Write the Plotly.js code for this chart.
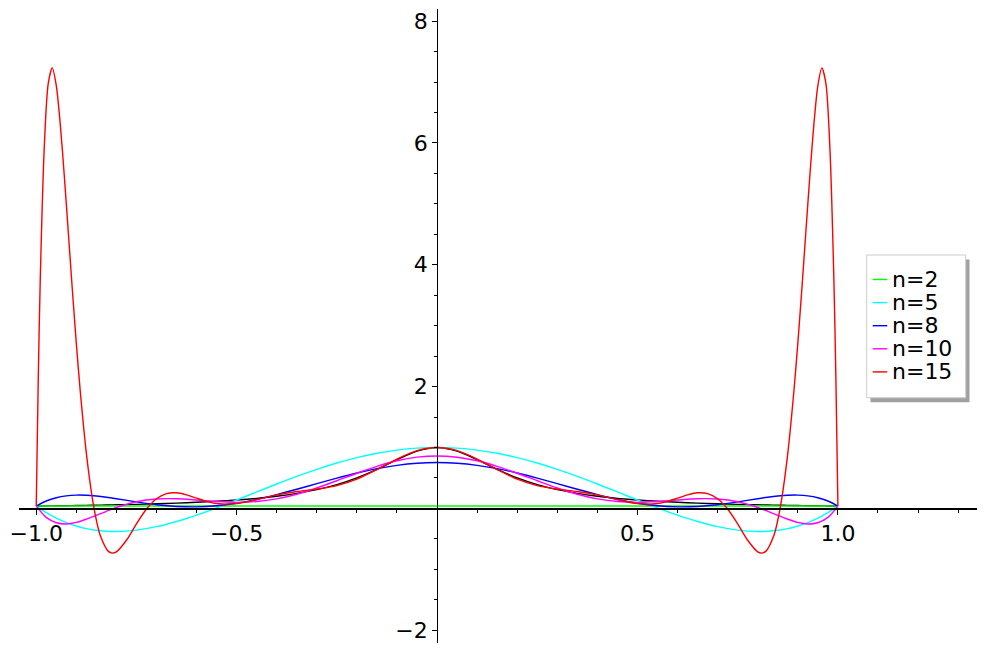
<!DOCTYPE html>
<html>
<head>
<meta charset="utf-8">
<script src="https://cdn.plot.ly/plotly-3.0.1.min.js"></script>
<style>
  body { margin: 0; background: #fff; }
  #plot { width: 986px; height: 655px; }
</style>
</head>
<body>
<div id="plot"></div>
<script>
// x grid shared by the function and the n=2,5,8,10 curves
const xs = [-1, -0.975, -0.95, -0.925, -0.9, -0.875, -0.85, -0.825, -0.8, -0.75, -0.7, -0.65, -0.6, -0.55, -0.5,
  -0.45, -0.4, -0.35, -0.3, -0.25, -0.2, -0.15, -0.1, -0.05, 0,
  0.05, 0.1, 0.15, 0.2, 0.25, 0.3, 0.35, 0.4, 0.45, 0.5, 0.55, 0.6, 0.65, 0.7, 0.75,
  0.8, 0.825, 0.85, 0.875, 0.9, 0.925, 0.95, 0.975, 1];

// black curve (the function itself)
const fVals = [0.0385, 0.0404, 0.0424, 0.0447, 0.0471, 0.0497, 0.0525, 0.0555, 0.0588, 0.0664, 0.0755, 0.0865, 0.1, 0.1168, 0.1379,
  0.1649, 0.2, 0.2462, 0.3077, 0.3902, 0.5, 0.64, 0.8, 0.9412, 1,
  0.9412, 0.8, 0.64, 0.5, 0.3902, 0.3077, 0.2462, 0.2, 0.1649, 0.1379, 0.1168, 0.1, 0.0865, 0.0755, 0.0664,
  0.0588, 0.0555, 0.0525, 0.0497, 0.0471, 0.0447, 0.0424, 0.0404, 0.0385];

const n2x = [-1, 1];
const n2Vals = [0.0385, 0.0385];

const n5Vals = [0.0385, -0.0697, -0.1596, -0.2323, -0.2891, -0.3312, -0.3595, -0.3752, -0.3793, -0.3568, -0.2997, -0.2153, -0.1101, 0.0096, 0.1379,
  0.2698, 0.4005, 0.5258, 0.6419, 0.7456, 0.8342, 0.9054, 0.9576, 0.9893, 1,
  0.9893, 0.9576, 0.9054, 0.8342, 0.7456, 0.6419, 0.5258, 0.4005, 0.2698, 0.1379, 0.0096, -0.1101, -0.2153, -0.2997, -0.3568,
  -0.3793, -0.3752, -0.3595, -0.3312, -0.2891, -0.2323, -0.1596, -0.0697, 0.0385];

const n8Vals = [0.0385, 0.1214, 0.1756, 0.2063, 0.2185, 0.2164, 0.2037, 0.1837, 0.1593, 0.1067, 0.0610, 0.0321, 0.0256, 0.0434, 0.0849,
  0.1470, 0.2252, 0.3138, 0.4069, 0.4983, 0.5822, 0.6533, 0.7074, 0.7412, 0.7526,
  0.7412, 0.7074, 0.6533, 0.5822, 0.4983, 0.4069, 0.3138, 0.2252, 0.1470, 0.0849, 0.0434, 0.0256, 0.0321, 0.0610, 0.1067,
  0.1593, 0.1837, 0.2037, 0.2164, 0.2185, 0.2063, 0.1756, 0.1214, 0.0385];

const n10Vals = [0.0385, -0.1480, -0.2360, -0.2554, -0.2300, -0.1781, -0.1137, -0.0472, 0.0147, 0.1084, 0.1540, 0.1581, 0.1377, 0.1123, 0.0995,
  0.1122, 0.1566, 0.2330, 0.3356, 0.4546, 0.5775, 0.6907, 0.7820, 0.8411, 0.8615,
  0.8411, 0.7820, 0.6907, 0.5775, 0.4546, 0.3356, 0.2330, 0.1566, 0.1122, 0.0995, 0.1123, 0.1377, 0.1581, 0.1540, 0.1084,
  0.0147, -0.0472, -0.1137, -0.1781, -0.2300, -0.2554, -0.2360, -0.1480, 0.0385];

// n=15 needs a finer grid near the ends
const n15x = [-1, -0.995, -0.99, -0.98, -0.97, -0.96, -0.95, -0.94, -0.93, -0.92, -0.91, -0.9, -0.89, -0.875, -0.86, -0.85, -0.84,
  -0.82, -0.81, -0.8, -0.775, -0.75, -0.725, -0.7, -0.675, -0.65, -0.625, -0.6, -0.575, -0.55, -0.5,
  -0.45, -0.4, -0.35, -0.3, -0.25, -0.2, -0.15, -0.1, -0.05, 0,
  0.05, 0.1, 0.15, 0.2, 0.25, 0.3, 0.35, 0.4, 0.45,
  0.5, 0.55, 0.575, 0.6, 0.625, 0.65, 0.675, 0.7, 0.725, 0.75, 0.775, 0.8, 0.81, 0.82,
  0.84, 0.85, 0.86, 0.875, 0.89, 0.9, 0.91, 0.92, 0.93, 0.94, 0.95, 0.96, 0.97, 0.98, 0.99, 0.995, 1];
const n15Vals = [0.0385, 2.1117, 3.7484, 5.9233, 6.9786, 7.2334, 6.9430, 6.3018, 5.4621, 4.5344, 3.5995, 2.7129, 1.9107, 0.9080, 0.1645, -0.1923, -0.4481,
  -0.7056, -0.7339, -0.7130, -0.5226, -0.2546, -0.0106, 0.1593, 0.2438, 0.2564, 0.2221, 0.1677, 0.1155, 0.0799, 0.0780,
  0.1440, 0.2218, 0.2768, 0.3159, 0.3736, 0.4803, 0.6372, 0.8110, 0.9480, 1,
  0.9480, 0.8110, 0.6372, 0.4803, 0.3736, 0.3159, 0.2768, 0.2218, 0.1440,
  0.0780, 0.0799, 0.1155, 0.1677, 0.2221, 0.2564, 0.2438, 0.1593, -0.0106, -0.2546, -0.5226, -0.7130, -0.7339, -0.7056,
  -0.4481, -0.1923, 0.1645, 0.9080, 1.9107, 2.7129, 3.5995, 4.5344, 5.4621, 6.3018, 6.9430, 7.2334, 6.9786, 5.9233, 3.7484, 2.1117, 0.0385];

const seriesNames = ['n=2', 'n=5', 'n=8', 'n=10', 'n=15'];
const seriesColors = ['#00ff00', '#00ffff', '#0000ff', '#ff00ff', '#ff0000'];

const xTickVals = [-1, -0.5, 0.5, 1];
const xTickText = ['−1.0', '−0.5', '0.5', '1.0'];
const yTickVals = [-2, 2, 4, 6, 8];
const yTickText = ['−2', '2', '4', '6', '8'];

const xRange = [-1.043, 1.347];
const yRange = [-2.21, 8.2];

const W = 986, H = 655;
const M = { l: 19, r: 9, t: 9, b: 12 };

// pixel -> paper helpers (for the legend box)
function px(p) { return (p - M.l) / (W - M.l - M.r); }
function py(p) { return 1 - (p - M.t) / (H - M.t - M.b); }

function curve(x, y, name, color) {
  return {
    x: x, y: y, name: name, type: 'scatter', mode: 'lines',
    line: { color: color, width: 1.4, shape: 'spline', smoothing: 0.8 },
    showlegend: false, hoverinfo: 'skip'
  };
}

const data = [
  curve(xs, fVals, 'f', 'black'),
  curve(n2x, n2Vals, seriesNames[0], seriesColors[0]),
  curve(xs, n5Vals, seriesNames[1], seriesColors[1]),
  curve(xs, n8Vals, seriesNames[2], seriesColors[2]),
  curve(xs, n10Vals, seriesNames[3], seriesColors[3]),
  curve(n15x, n15Vals, seriesNames[4], seriesColors[4])
];

// legend drawn as a boxed list with a drop shadow, like the original
const shapes = [
  { type: 'rect', xref: 'paper', yref: 'paper', x0: px(870.5), x1: px(969.5), y0: py(259.5), y1: py(402.3),
    fillcolor: '#a0a0a0', line: { width: 0 }, layer: 'above' },
  { type: 'rect', xref: 'paper', yref: 'paper', x0: px(866.7), x1: px(965.7), y0: py(255), y1: py(397.7),
    fillcolor: 'white', line: { color: '#cccccc', width: 1 }, layer: 'above' }
];
const annotations = [];
seriesNames.forEach(function(name, i) {
  const rowY = 279.5 + i * 23.1;
  shapes.push({ type: 'line', xref: 'paper', yref: 'paper', x0: px(872.7), x1: px(887.3), y0: py(rowY), y1: py(rowY),
    line: { color: seriesColors[i], width: 1.4 }, layer: 'above' });
  annotations.push({ xref: 'paper', yref: 'paper', x: px(889.5), y: py(rowY), xanchor: 'left', yanchor: 'middle',
    text: name, showarrow: false, font: { family: 'DejaVu Sans', size: 22, color: 'black' } });
});

const axisFont = { family: 'DejaVu Sans', size: 22, color: 'black' };

const layout = {
  width: W, height: H,
  margin: M,
  paper_bgcolor: 'white', plot_bgcolor: 'white',
  font: { family: 'DejaVu Sans', size: 22, color: 'black' },
  xaxis: {
    range: xRange, anchor: 'free',
    position: (0 - yRange[0]) / (yRange[1] - yRange[0]),
    showline: true, linecolor: 'black', linewidth: 1.2,
    showgrid: false, zeroline: false,
    tickmode: 'array', tickvals: xTickVals, ticktext: xTickText,
    ticks: 'outside', ticklen: 5, tickwidth: 1, tickcolor: 'black',
    minor: { tickmode: 'linear', tick0: 0, dtick: 0.1, ticks: 'outside', ticklen: 3, tickwidth: 1, tickcolor: 'black' },
    tickfont: axisFont
  },
  yaxis: {
    range: yRange, anchor: 'free',
    position: (0 - xRange[0]) / (xRange[1] - xRange[0]),
    showline: true, linecolor: 'black', linewidth: 1.2,
    showgrid: false, zeroline: false,
    tickmode: 'array', tickvals: yTickVals, ticktext: yTickText,
    ticks: 'outside', ticklen: 5, tickwidth: 1, tickcolor: 'black',
    minor: { tickmode: 'linear', tick0: 0, dtick: 0.5, ticks: 'outside', ticklen: 3, tickwidth: 1, tickcolor: 'black' },
    tickfont: axisFont
  },
  shapes: shapes,
  annotations: annotations,
  showlegend: false
};

Plotly.newPlot('plot', data, layout, { displayModeBar: false, staticPlot: true });
</script>
</body>
</html>
